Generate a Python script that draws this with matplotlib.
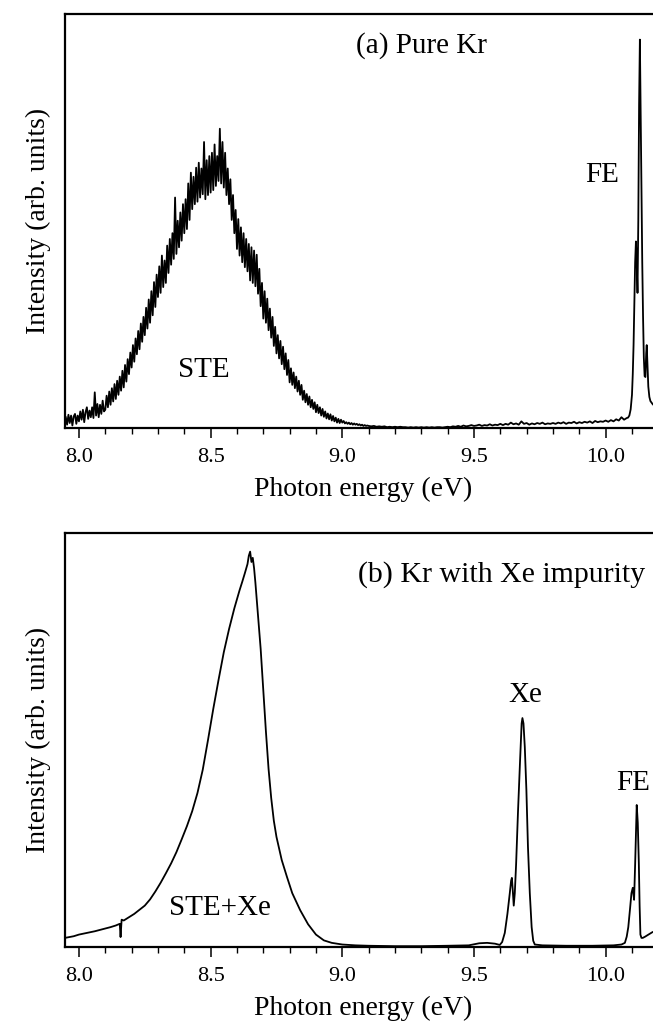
import numpy as np
import matplotlib
matplotlib.use("Agg")
import matplotlib.pyplot as plt
from matplotlib.ticker import MultipleLocator, FormatStrFormatter

plt.rcParams['font.family'] = ['Liberation Serif', 'DejaVu Serif']

# ---------------- Panel (a): pure Kr ----------------
# STE band, sampled every 0.005 eV from 7.950 to 9.100 eV
ste_a_start, ste_a_step = 7.950, 0.005
ste_a_int = [
    0.026, 0.008, 0.032, 0.012, 0.030, 0.006, 0.028, 0.034, 0.010, 0.030,
    0.016, 0.040, 0.020, 0.044, 0.014, 0.038, 0.050, 0.022, 0.042, 0.026,
    0.050, 0.024, 0.086, 0.030, 0.058, 0.026, 0.056, 0.034, 0.066, 0.040,
    0.044, 0.078, 0.050, 0.088, 0.056, 0.096, 0.064, 0.106, 0.070, 0.114,
    0.080, 0.124, 0.090, 0.138, 0.098, 0.152, 0.112, 0.166, 0.130, 0.182,
    0.146, 0.200, 0.160, 0.216, 0.178, 0.234, 0.190, 0.252, 0.208, 0.268,
    0.224, 0.290, 0.240, 0.310, 0.254, 0.330, 0.272, 0.352, 0.292, 0.370,
    0.316, 0.390, 0.326, 0.416, 0.340, 0.404, 0.350, 0.440, 0.374, 0.456,
    0.394, 0.470, 0.408, 0.556, 0.420, 0.500, 0.436, 0.520, 0.452, 0.540,
    0.470, 0.552, 0.480, 0.590, 0.502, 0.616, 0.528, 0.606, 0.540, 0.628,
    0.546, 0.640, 0.556, 0.626, 0.564, 0.690, 0.552, 0.646, 0.562, 0.656,
    0.568, 0.664, 0.574, 0.684, 0.584, 0.656, 0.596, 0.722, 0.590, 0.690,
    0.580, 0.664, 0.562, 0.626, 0.540, 0.600, 0.502, 0.562, 0.470, 0.526,
    0.432, 0.504, 0.416, 0.484, 0.400, 0.470, 0.388, 0.456, 0.378, 0.444,
    0.356, 0.436, 0.350, 0.428, 0.342, 0.418, 0.324, 0.384, 0.294, 0.350,
    0.264, 0.330, 0.254, 0.312, 0.236, 0.288, 0.218, 0.268, 0.198, 0.244,
    0.180, 0.224, 0.168, 0.210, 0.154, 0.196, 0.142, 0.180, 0.128, 0.164,
    0.110, 0.144, 0.104, 0.134, 0.096, 0.124, 0.088, 0.114, 0.080, 0.104,
    0.068, 0.090, 0.062, 0.082, 0.056, 0.076, 0.050, 0.068, 0.046, 0.062,
    0.038, 0.056, 0.036, 0.050, 0.030, 0.046, 0.027, 0.040, 0.023, 0.035,
    0.021, 0.033, 0.018, 0.029, 0.016, 0.025, 0.013, 0.022, 0.012, 0.020,
    0.013, 0.017, 0.011, 0.014, 0.010, 0.013, 0.009, 0.012, 0.008, 0.011,
    0.008, 0.010, 0.007, 0.009, 0.006, 0.008, 0.005, 0.007, 0.005, 0.006, 0.005,
]
# Baseline, sampled every 0.01 eV from 9.11 to 10.08 eV
base_a_start, base_a_step = 9.11, 0.01
base_a_int = [
    0.004, 0.005, 0.003, 0.004, 0.003, 0.004, 0.002, 0.003, 0.002, 0.003,
    0.002, 0.003, 0.002, 0.002, 0.001, 0.002, 0.001, 0.002, 0.001, 0.002,
    0.001, 0.002, 0.001, 0.002, 0.001, 0.002, 0.002, 0.001, 0.002, 0.003,
    0.002, 0.004, 0.003, 0.005, 0.003, 0.006, 0.004, 0.005, 0.007, 0.005,
    0.006, 0.008, 0.005, 0.007, 0.006, 0.009, 0.006, 0.008, 0.007, 0.010,
    0.007, 0.010, 0.008, 0.013, 0.009, 0.011, 0.008, 0.016, 0.010, 0.012,
    0.008, 0.011, 0.009, 0.012, 0.010, 0.013, 0.009, 0.011, 0.010, 0.012,
    0.010, 0.013, 0.011, 0.014, 0.010, 0.013, 0.012, 0.015, 0.011, 0.014,
    0.012, 0.015, 0.013, 0.016, 0.012, 0.017, 0.014, 0.016, 0.015, 0.018,
    0.015, 0.019, 0.016, 0.021, 0.018, 0.026, 0.020, 0.024,
]
# Free-exciton peak region
fe_a_energy = [10.085, 10.090, 10.095, 10.100, 10.103, 10.106, 10.109, 10.112,
               10.115, 10.118, 10.121, 10.124, 10.127, 10.130, 10.133, 10.136,
               10.139, 10.142, 10.145, 10.148, 10.151, 10.154, 10.156, 10.159,
               10.162, 10.166, 10.170, 10.178, 10.190, 10.210]
fe_a_int = [0.025, 0.030, 0.045, 0.080, 0.130, 0.200, 0.300, 0.400,
            0.450, 0.400, 0.326, 0.500, 0.780, 0.937, 0.760, 0.560,
            0.400, 0.270, 0.170, 0.125, 0.123, 0.180, 0.200, 0.150,
            0.100, 0.075, 0.065, 0.058, 0.050, 0.045]

# ---------------- Panel (b): Kr with Xe impurity ----------------
b_energy = [7.947, 7.98, 8.00, 8.03, 8.06, 8.09, 8.12, 8.14, 8.155, 8.158,
            8.162, 8.17, 8.19, 8.21, 8.23, 8.25, 8.27, 8.29, 8.31, 8.33,
            8.35, 8.37, 8.39, 8.41, 8.43, 8.45, 8.47, 8.49, 8.51, 8.53,
            8.55, 8.57, 8.59, 8.61, 8.62, 8.63, 8.64, 8.645, 8.65, 8.655,
            8.66, 8.665, 8.67, 8.68, 8.69, 8.70, 8.71, 8.72, 8.73, 8.74,
            8.75, 8.77, 8.79, 8.81, 8.84, 8.87, 8.90, 8.93, 8.96, 9.00,
            9.05, 9.10, 9.20, 9.30, 9.40, 9.48, 9.52, 9.55, 9.58, 9.598,
            9.607, 9.617, 9.627, 9.636, 9.641, 9.644, 9.647, 9.651, 9.655, 9.660,
            9.667, 9.675, 9.681, 9.684, 9.688, 9.693, 9.699, 9.705, 9.712, 9.719,
            9.725, 9.731, 9.76, 9.85, 9.95, 10.03, 10.06, 10.073, 10.080, 10.086,
            10.093, 10.098, 10.103, 10.108, 10.112, 10.118, 10.122, 10.126, 10.129, 10.132,
            10.136, 10.141, 10.150, 10.160, 10.178, 10.210]
b_int = [0.022, 0.026, 0.030, 0.034, 0.038, 0.043, 0.048, 0.052, 0.056, 0.024,
         0.066, 0.064, 0.072, 0.080, 0.090, 0.100, 0.115, 0.134, 0.155, 0.178,
         0.202, 0.229, 0.260, 0.292, 0.328, 0.372, 0.428, 0.500, 0.575, 0.645,
         0.712, 0.768, 0.818, 0.862, 0.882, 0.903, 0.925, 0.945, 0.955, 0.930,
         0.940, 0.915, 0.880, 0.800, 0.720, 0.620, 0.520, 0.430, 0.360, 0.305,
         0.266, 0.210, 0.169, 0.130, 0.089, 0.055, 0.030, 0.016, 0.010, 0.006,
         0.004, 0.003, 0.002, 0.002, 0.003, 0.004, 0.009, 0.010, 0.008, 0.005,
         0.012, 0.034, 0.080, 0.130, 0.160, 0.167, 0.140, 0.100, 0.130, 0.200,
         0.324, 0.450, 0.540, 0.553, 0.540, 0.483, 0.380, 0.242, 0.130, 0.048,
         0.015, 0.006, 0.004, 0.003, 0.003, 0.004, 0.006, 0.010, 0.025, 0.048,
         0.095, 0.130, 0.143, 0.114, 0.200, 0.343, 0.300, 0.203, 0.100, 0.030,
         0.022, 0.022, 0.025, 0.029, 0.036, 0.042]

x_major_ticks = [8.0, 8.5, 9.0, 9.5, 10.0]
x_label = "Photon energy (eV)"
y_label = "Intensity (arb. units)"

# assemble panel (a) series
ste_a_energy = ste_a_start + ste_a_step * np.arange(len(ste_a_int))
base_a_energy = base_a_start + base_a_step * np.arange(len(base_a_int))
a_energy = np.concatenate([ste_a_energy, base_a_energy, fe_a_energy])
a_int = np.concatenate([ste_a_int, base_a_int, fe_a_int])

W, H = 653, 1024
fig = plt.figure(figsize=(W / 100, H / 100), dpi=100)

def px_axes(left, top, right, bottom):
    return fig.add_axes([left / W, 1 - bottom / H, (right - left) / W, (bottom - top) / H])

ax_a = px_axes(65, 13.5, 662, 428)
ax_b = px_axes(65, 533, 662, 947)

for ax, e, i, lw in [(ax_a, a_energy, a_int, 1.3), (ax_b, b_energy, b_int, 1.3)]:
    ax.plot(e, i, color='black', lw=lw)
    ax.set_xlim(7.947, 10.214)
    ax.set_ylim(0, 1.0)
    ax.set_xticks(x_major_ticks)
    ax.xaxis.set_major_formatter(FormatStrFormatter('%.1f'))
    ax.xaxis.set_minor_locator(MultipleLocator(0.1))
    ax.set_yticks([])
    ax.tick_params(axis='x', which='major', direction='out', length=7.5, width=1.1,
                   labelsize=16, pad=7)
    ax.tick_params(axis='x', which='minor', direction='out', length=4.5, width=1.0)
    for s in ['left', 'top', 'bottom']:
        ax.spines[s].set_linewidth(1.6)
    ax.spines['right'].set_visible(False)
    ax.set_xlabel(x_label, fontsize=20, labelpad=7)
    ax.set_ylabel(y_label, fontsize=20, labelpad=10)

ax_a.text(9.30, 0.923, "(a) Pure Kr", fontsize=21, ha='center', va='center')
ax_a.text(9.986, 0.611, "FE", fontsize=21, ha='center', va='center')
ax_a.text(8.475, 0.14, "STE", fontsize=21, ha='center', va='center')

ax_b.text(9.606, 0.899, "(b) Kr with Xe impurity", fontsize=21.5, ha='center', va='center')
ax_b.text(9.693, 0.609, "Xe", fontsize=21, ha='center', va='center')
ax_b.text(10.103, 0.396, "FE", fontsize=21, ha='center', va='center')
ax_b.text(8.535, 0.094, "STE+Xe", fontsize=21, ha='center', va='center')

fig.savefig("out.png", dpi=100)
